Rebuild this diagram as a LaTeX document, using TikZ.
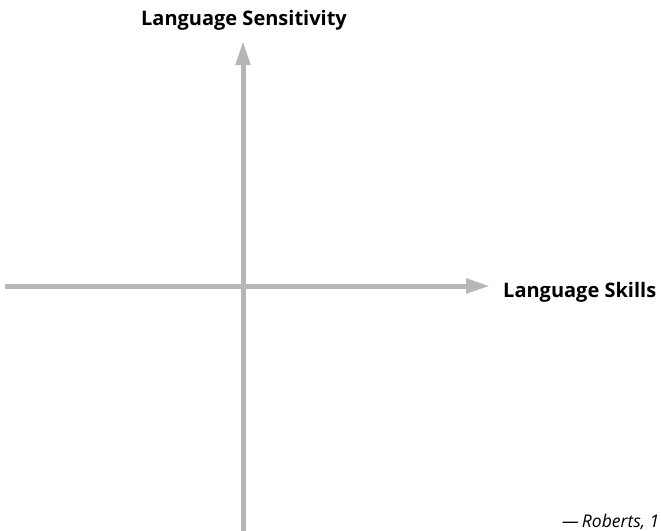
\documentclass[tikz,border=0pt]{standalone}
\usepackage{fontspec}
\setmainfont{Open Sans}
\usetikzlibrary{arrows.meta}
\definecolor{axisgray}{RGB}{182,182,182}
\tikzset{
  axis/.style={draw=axisgray, line width=5pt,
    -{Triangle[length=24pt,width=14pt]}},
  axislabel/.style={font=\bfseries\fontsize{20}{24}\selectfont, inner sep=0pt},
  source/.style={font=\itshape\fontsize{17.5}{21}\selectfont, inner sep=0pt}
}
\begin{document}
\begin{tikzpicture}[x=1pt,y=-1pt]
  \useasboundingbox (0,0) rectangle (661,530);
  % axis end points
  \coordinate (xstart) at (5,286);
  \coordinate (xend) at (490,286);
  \coordinate (ystart) at (243,532);
  \coordinate (yend) at (243,41);
  % axes
  \draw[axis] (xstart) -- (xend);
  \draw[axis] (ystart) -- (yend);
  % labels
  \node[axislabel, anchor=base] (ylabel) at (244,25) {Language Sensitivity};
  \node[axislabel, anchor=base west] (xlabel) at (503,297) {Language Skills};
  \node[source, anchor=base west] (cite) at (562,527) {—\,Roberts, 1};
\end{tikzpicture}
\end{document}
